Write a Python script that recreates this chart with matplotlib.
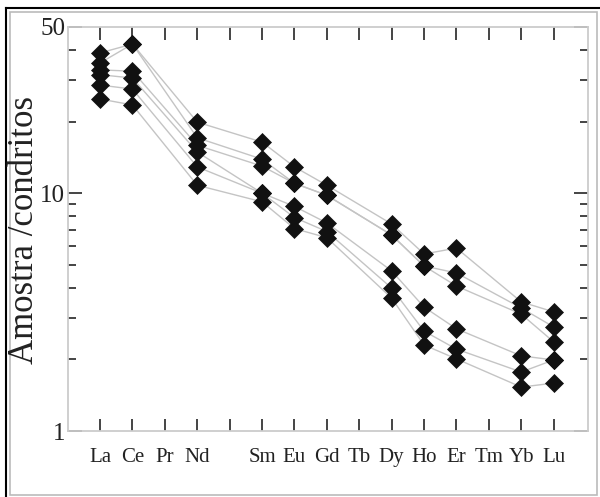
import numpy as np
import matplotlib
matplotlib.use('Agg')
import matplotlib.pyplot as plt
from matplotlib.ticker import FixedLocator, FixedFormatter, NullFormatter
from matplotlib.lines import Line2D
from matplotlib.patches import Rectangle

plt.rcParams['font.family'] = ['Liberation Serif', 'DejaVu Serif']

# REE positions (Pm has a tick but no label)
elements = ["La", "Ce", "Pr", "Nd", "", "Sm", "Eu", "Gd", "Tb", "Dy", "Ho", "Er", "Tm", "Yb", "Lu"]
nan = np.nan
#            La    Ce    Pr   Nd    Pm   Sm    Eu    Gd    Tb   Dy    Ho    Er    Tm   Yb    Lu
sample1 = [38.9, 42.4, nan, 19.9, nan, 16.4, 12.9, 10.8, nan, 7.42, 5.55, 5.88, nan, 3.49, 3.17]
sample2 = [35.3, 42.4, nan, 17.1, nan, 13.9, 11.0, 9.8, nan, 6.67, 4.94, 4.62, nan, 3.29, 2.74]
sample3 = [33.0, 32.6, nan, 15.9, nan, 13.0, 11.0, 9.8, nan, 6.67, 4.94, 4.07, nan, 3.10, 2.37]
sample4 = [31.5, 30.5, nan, 14.9, nan, 10.0, 8.8, 7.5, nan, 4.71, 3.32, 2.69, nan, 2.07, 1.99]
sample5 = [28.5, 27.4, nan, 12.9, nan, 10.0, 7.9, 6.9, nan, 3.99, 2.63, 2.21, nan, 1.77, 1.99]
sample6 = [24.9, 23.5, nan, 10.8, nan, 9.2, 7.1, 6.5, nan, 3.62, 2.30, 2.01, nan, 1.53, 1.59]
samples = [sample1, sample2, sample3, sample4, sample5, sample6]

ytick_vals = [1, 10, 50]
ytick_labels = ["1", "10", "50"]
yminor_vals = [2, 3, 4, 5, 6, 7, 8, 9, 20, 30, 40]

W, H = 600, 497
fig = plt.figure(figsize=(W / 100, H / 100), dpi=100)
ax = fig.add_axes([68 / W, 1 - 431 / H, (588 - 68) / W, (431 - 27) / H])

x = np.arange(len(elements))
for s in samples:
    y = np.array(s, dtype=float)
    m = ~np.isnan(y)
    ax.plot(x[m], y[m], color='#c4c4c4', lw=1.0, zorder=1)
for s in samples:
    y = np.array(s, dtype=float)
    m = ~np.isnan(y)
    ax.plot(x[m], y[m], ls='none', marker='D', ms=9.6, mfc='#111111', mec='#111111',
            mew=0.5, zorder=3)

ax.set_yscale('log')
ax.set_ylim(1, 50)
ax.set_xlim(-0.99, 15.06)

ax.yaxis.set_major_locator(FixedLocator(ytick_vals))
ax.yaxis.set_major_formatter(FixedFormatter(ytick_labels))
ax.yaxis.set_minor_locator(FixedLocator(yminor_vals))
ax.yaxis.set_minor_formatter(NullFormatter())

ax.set_xticks(x)
ax.set_xticklabels(elements)

for sp in ax.spines.values():
    sp.set_color('#cccccc')
    sp.set_linewidth(1.3)

ax.tick_params(axis='x', which='major', direction='in', top=True, bottom=True,
               length=9, width=1.4, color='#444444', labelsize=15, pad=12,
               labelcolor='#222222')
ax.tick_params(axis='y', which='major', direction='in', left=True, right=True,
               length=10, width=1.4, color='#444444', labelsize=18, pad=2,
               labelcolor='#222222')
ax.tick_params(axis='y', which='minor', direction='in', left=True, right=True,
               length=6, width=1.4, color='#444444')

fig.text(24.5 / W, 1 - 230 / H, 'Amostra /condritos', rotation=90, ha='center', va='center',
         fontsize=25, color='#222222')

# outer frame
fig.add_artist(Line2D([6 / W, 1.0], [1 - 8 / H, 1 - 8 / H], color='black', lw=1.5,
                      transform=fig.transFigure))
fig.add_artist(Line2D([6 / W, 6 / W], [0.0, 1 - 8 / H], color='black', lw=1.5,
                      transform=fig.transFigure))
fig.add_artist(Rectangle((10 / W, 1 - 495 / H), (597 - 10) / W, (495 - 12) / H,
                         fill=False, ec='#bbbbbb', lw=1.2, transform=fig.transFigure))

fig.savefig('out.png', dpi=100)
